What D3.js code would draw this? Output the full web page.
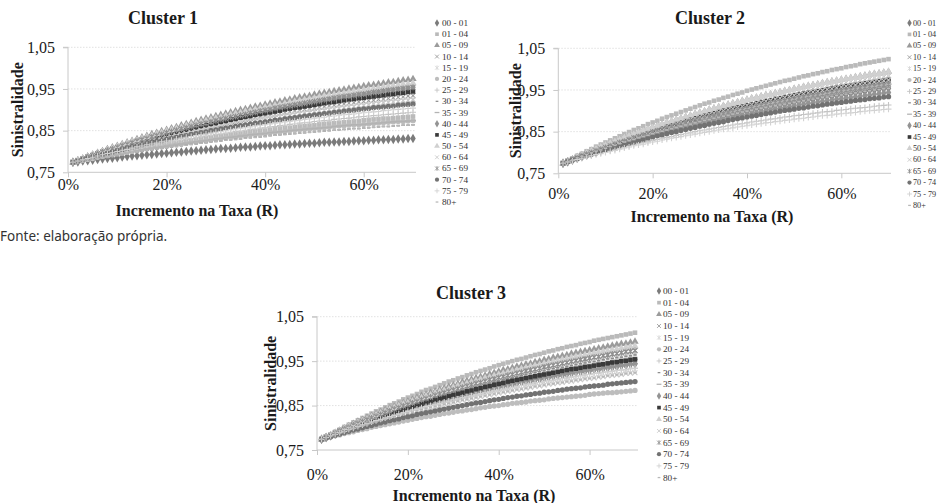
<!DOCTYPE html>
<html><head><meta charset="utf-8">
<script src="https://cdn.jsdelivr.net/npm/d3@7"></script>
<style>body{margin:0;background:#fff;}svg{display:block}</style>
</head><body><svg id="c" width="939" height="503"></svg>
<script>
// ---------------- DATA ----------------
const ageGroups = ["00 - 01","01 - 04","05 - 09","10 - 14","15 - 19","20 - 24","25 - 29","30 - 34","35 - 39","40 - 44","45 - 49","50 - 54","60 - 64","65 - 69","70 - 74","75 - 79","80+"];
const xPercents = [1,2,3,4,5,6,7,8,9,10,11,12,13,14,15,16,17,18,19,20,21,22,23,24,25,26,27,28,29,30,31,32,33,34,35,36,37,38,39,40,41,42,43,44,45,46,47,48,49,50,51,52,53,54,55,56,57,58,59,60,61,62,63,64,65,66,67,68,69,70];
const xTickLabels = ["0%","20%","40%","60%"];
const yTickLabels = ["0,75","0,85","0,95","1,05"];

// curves (sinistralidade x 1000)
const curveA = [774,775,777,778,779,781,782,783,784,785,787,788,789,790,791,792,793,794,795,796,797,798,799,800,801,802,803,804,805,806,807,807,808,809,810,811,811,812,813,814,814,815,816,816,817,818,818,819,820,820,821,822,822,823,823,824,824,825,826,826,827,827,828,828,829,829,830,830,831,831];
const curveB = [774,776,778,780,782,784,786,788,790,792,794,796,798,799,801,803,804,806,808,809,811,812,814,815,817,818,820,821,823,824,825,827,828,829,830,832,833,834,835,836,838,839,840,841,842,843,844,845,846,847,848,849,850,851,852,853,854,855,855,856,857,858,859,860,860,861,862,863,863,864];
const curveC = [774,776,779,781,783,786,788,790,792,794,796,798,800,802,804,806,808,810,811,813,815,817,818,820,822,823,825,826,828,830,831,833,834,835,837,838,840,841,842,843,845,846,847,848,850,851,852,853,854,855,856,857,858,860,861,862,863,864,864,865,866,867,868,869,870,871,872,872,873,874];
const curveD = [774,777,779,782,784,787,789,791,794,796,798,801,803,805,807,809,811,813,815,817,819,821,823,825,826,828,830,832,833,835,837,838,840,841,843,845,846,848,849,850,852,853,855,856,857,858,860,861,862,863,865,866,867,868,869,870,871,872,873,875,876,877,878,879,879,880,881,882,883,884];
const curveE = [774,777,780,782,785,788,790,793,796,798,801,803,805,808,810,812,815,817,819,821,823,825,827,829,831,833,835,837,839,841,842,844,846,848,849,851,853,854,856,857,859,860,862,863,865,866,868,869,870,872,873,874,875,877,878,879,880,881,883,884,885,886,887,888,889,890,891,892,893,894];
const curveF = [774,777,780,783,786,789,792,795,797,800,803,805,808,811,813,816,818,820,823,825,827,830,832,834,836,838,840,842,844,846,848,850,852,854,856,857,859,861,863,864,866,868,869,871,872,874,875,877,878,880,881,882,884,885,887,888,889,890,892,893,894,895,896,898,899,900,901,902,903,904];
const curveG = [774,777,781,784,787,790,793,796,799,802,805,808,811,813,816,819,821,824,826,829,831,834,836,838,841,843,845,847,850,852,854,856,858,860,862,864,866,868,869,871,873,875,876,878,880,881,883,885,886,888,889,891,892,894,895,897,898,899,901,902,903,905,906,907,908,909,911,912,913,914];
const curveH = [774,778,781,785,788,791,795,798,801,804,807,810,813,816,819,822,825,827,830,833,835,838,841,843,846,848,850,853,855,857,860,862,864,866,868,870,872,874,876,878,880,882,884,886,887,889,891,893,894,896,898,899,901,902,904,905,907,908,910,911,912,914,915,917,918,919,920,922,923,924];
const curveI = [774,778,782,785,789,792,796,799,803,806,809,813,816,819,822,825,828,831,834,837,840,842,845,848,850,853,855,858,860,863,865,868,870,872,874,877,879,881,883,885,887,889,891,893,895,897,899,901,902,904,906,907,909,911,912,914,916,917,919,920,922,923,925,926,927,929,930,931,933,934];
const curveJ = [774,778,782,786,790,794,797,801,805,808,812,815,818,822,825,828,831,835,838,841,844,847,849,852,855,858,861,863,866,868,871,873,876,878,881,883,885,888,890,892,894,896,898,901,903,905,906,908,910,912,914,916,918,919,921,923,925,926,928,929,931,932,934,935,937,938,940,941,943,944];
const curveK = [774,778,782,787,791,795,799,803,806,810,814,817,821,825,828,831,835,838,841,845,848,851,854,857,860,863,866,868,871,874,877,879,882,884,887,889,892,894,897,899,901,904,906,908,910,912,914,916,918,920,922,924,926,928,930,932,933,935,937,938,940,942,943,945,947,948,950,951,953,954];
const curveL = [774,779,783,787,792,796,800,804,808,812,816,820,824,827,831,835,838,842,845,849,852,855,858,862,865,868,871,874,877,880,882,885,888,891,893,896,898,901,903,906,908,911,913,915,918,920,922,924,926,928,931,933,935,936,938,940,942,944,946,948,949,951,953,955,956,958,959,961,962,964];
const curveM = [774,779,783,788,793,797,801,806,810,814,818,822,826,830,834,838,842,845,849,852,856,859,863,866,869,873,876,879,882,885,888,891,894,897,900,902,905,908,910,913,915,918,920,923,925,928,930,932,934,937,939,941,943,945,947,949,951,953,955,957,959,960,962,964,966,967,969,971,972,974];
const curveN = [774,779,784,789,793,798,803,807,812,816,820,825,829,833,837,841,845,849,853,856,860,864,867,871,874,878,881,884,887,891,894,897,900,903,906,909,912,914,917,920,922,925,928,930,933,935,938,940,942,945,947,949,951,954,956,958,960,962,964,966,968,970,972,973,975,977,979,981,982,984];
const curveO = [774,779,784,789,794,799,804,809,814,818,823,827,831,836,840,844,848,852,856,860,864,868,872,875,879,882,886,889,893,896,899,903,906,909,912,915,918,921,924,927,930,932,935,938,940,943,945,948,950,953,955,958,960,962,964,967,969,971,973,975,977,979,981,983,985,987,989,990,992,994];
const curveP = [774,780,785,791,796,802,807,812,817,822,827,832,837,841,846,851,855,859,864,868,872,876,881,885,888,892,896,900,904,907,911,914,918,921,925,928,931,934,938,941,944,947,950,953,955,958,961,964,966,969,972,974,977,979,982,984,986,989,991,993,996,998,1000,1002,1004,1006,1008,1010,1012,1014];
const curveQ = [774,780,786,792,797,803,808,814,819,824,829,834,839,844,849,854,858,863,868,872,876,881,885,889,893,897,901,905,909,913,917,920,924,927,931,934,938,941,944,948,951,954,957,960,963,966,969,972,974,977,980,983,985,988,990,993,995,998,1000,1002,1005,1007,1009,1012,1014,1016,1018,1020,1022,1024];

// series per cluster, in legend order
const cluster1Values = [curveA,curveD,curveM,curveI,curveH,curveC,curveE,curveB,curveC,curveK,curveJ,curveL,curveH,curveK,curveG,curveF,curveB];
const cluster2Values = [curveK,curveQ,curveO,curveN,curveN,curveL,curveG,curveM,curveL,curveJ,curveM,curveO,curveM,curveL,curveI,curveF,curveK];
const cluster3Values = [curveJ,curveP,curveO,curveM,curveL,curveD,curveI,curveL,curveK,curveJ,curveK,curveN,curveH,curveM,curveF,curveI,curveH];

// ---------------- STYLE ----------------
const markerStyles = [
  {t:"diamond", c:"#7b7b7b"},
  {t:"square",  c:"#bababa"},
  {t:"triangle",c:"#9b9b9b"},
  {t:"x",       c:"#9a9a9a"},
  {t:"star",    c:"#d6d6d6"},
  {t:"circle",  c:"#bdbdbd"},
  {t:"plus",    c:"#c4c4c4"},
  {t:"dash",    c:"#8e8e8e"},
  {t:"ldash",   c:"#b3b3b3"},
  {t:"diamond", c:"#949494"},
  {t:"square",  c:"#3a3a3a"},
  {t:"triangle",c:"#d0d0d0"},
  {t:"x",       c:"#c9c9c9"},
  {t:"star",    c:"#909090"},
  {t:"circle",  c:"#727272"},
  {t:"plus",    c:"#d2d2d2"},
  {t:"dash",    c:"#b8b8b8"}
];
const filled = {diamond:d3.symbolDiamond, square:d3.symbolSquare, triangle:d3.symbolTriangle, circle:d3.symbolCircle};
const sizes = {diamond:26, square:21, triangle:23, circle:22};
const strokePaths = {
  x:"M-2.4,-2.4L2.4,2.4M-2.4,2.4L2.4,-2.4",
  star:"M-2.4,-2.4L2.4,2.4M-2.4,2.4L2.4,-2.4M0,-3L0,3",
  plus:"M-3,0L3,0M0,-3L0,3",
  dash:"M-1.7,0L1.7,0",
  ldash:"M-3,0L3,0"
};
function markerD(t){ return filled[t] ? d3.symbol(filled[t], sizes[t])() : strokePaths[t]; }
function styleMarker(sel, st){
  if (filled[st.t]) sel.attr("fill", st.c).attr("stroke","none");
  else sel.attr("fill","none").attr("stroke", st.c).attr("stroke-width", st.t==="dash"||st.t==="ldash"?1.6:1.1);
}

const panels = [
  {title:"Cluster 1", values:cluster1Values, x0:68, x70:413, right:416, yTop:47.3, yBot:172.3,
   titleX:163, titleY:24, tickY:190, xTitleX:197, xTitleY:216, yTitleX:17, legX:437, legTX:442, legY:23, legDy:11.19, legFS:9.2},
  {title:"Cluster 2", values:cluster2Values, x0:558.3, x70:888.5, right:891, yTop:48.3, yBot:173.3,
   titleX:710, titleY:24, tickY:199, xTitleX:712, xTitleY:222, yTitleX:515, legX:909.5, legTX:913, legY:23, legDy:11.4, legFS:8.2},
  {title:"Cluster 3", values:cluster3Values, x0:317, x70:635, right:638, yTop:316.7, yBot:450,
   titleX:471, titleY:299, tickY:480, xTitleX:474, xTitleY:501, yTitleX:270.5, legX:659, legTX:663, legY:291, legDy:11.66, legFS:9.2}
];

const svg = d3.select("#c");
const serif = "'Liberation Serif','Times New Roman',serif";

panels.forEach(p => {
  const x = d3.scaleLinear().domain([0,70]).range([p.x0, p.x70]);
  const y = d3.scaleLinear().domain([0.75,1.05]).range([p.yBot, p.yTop]);
  const g = svg.append("g");
  const yTicks = [0.75,0.85,0.95,1.05];

  g.selectAll(".grid").data(yTicks.slice(1)).join("line")
    .attr("x1", p.x0).attr("x2", p.right)
    .attr("y1", d=>y(d)).attr("y2", d=>y(d))
    .attr("stroke","#d9d9d9").attr("stroke-dasharray","1.5,1.5").attr("stroke-width",0.8);

  const ya = g.append("g").attr("transform",`translate(${p.x0},0)`)
    .call(d3.axisLeft(y).tickValues(yTicks).tickSize(5).tickPadding(8).tickFormat((d,i)=>yTickLabels[i]));
  ya.attr("font-family", null);
  ya.select(".domain").attr("stroke","#c8c8c8").attr("d",`M-5,${p.yTop}H0V${p.yBot}`);
  ya.selectAll(".tick line").attr("stroke","#c8c8c8");
  ya.selectAll("text").style("font-family",serif).style("font-size","16px").attr("fill","#1a1a1a");

  const xa = g.append("g").attr("transform",`translate(0,${p.yBot})`)
    .call(d3.axisBottom(x).tickValues([0,20,40,60]).tickSize(5).tickFormat((d,i)=>xTickLabels[i]));
  xa.attr("font-family", null);
  xa.select(".domain").attr("stroke","#c8c8c8").attr("d",`M${p.x0},0H${p.right}`);
  xa.selectAll(".tick line").attr("stroke","#c8c8c8");
  xa.selectAll("text").style("font-family",serif).style("font-size","16px").attr("fill","#1a1a1a")
    .attr("dy",null).attr("y", p.tickY - p.yBot);

  p.values.forEach((vals, si) => {
    const st = markerStyles[si];
    const pts = vals.map((v,i)=>({x:xPercents[i], v:v/1000})).filter(d=>d.x!==undefined);
    const sel = g.append("g").selectAll("path").data(pts).join("path")
      .attr("d", markerD(st.t))
      .attr("transform", d=>`translate(${x(d.x)},${y(d.v)})`);
    styleMarker(sel, st);
  });

  g.append("text").attr("x",p.titleX).attr("y",p.titleY).attr("text-anchor","middle")
    .style("font-family",serif).attr("font-weight","bold").attr("font-size",18).attr("fill","#1a1a1a").text(p.title);
  g.append("text").attr("x",p.xTitleX).attr("y",p.xTitleY).attr("text-anchor","middle")
    .style("font-family",serif).attr("font-weight","bold").attr("font-size",16).attr("fill","#1a1a1a").text("Incremento na Taxa (R)");
  g.append("text").attr("transform",`translate(${p.yTitleX},${(p.yTop+p.yBot)/2}) rotate(-90)`)
    .attr("text-anchor","middle").attr("dominant-baseline","central")
    .style("font-family",serif).attr("font-weight","bold").attr("font-size",16).attr("fill","#1a1a1a").text("Sinistralidade");

  const lg = g.append("g");
  ageGroups.forEach((name, i) => {
    const cy = p.legY + i*p.legDy;
    const m = lg.append("path").attr("d", markerD(markerStyles[i].t)).attr("transform",`translate(${p.legX},${cy}) scale(0.8)`);
    styleMarker(m, markerStyles[i]);
    lg.append("text").attr("x", p.legTX).attr("y", cy).attr("dominant-baseline","central")
      .style("font-family",serif).attr("font-size",p.legFS).attr("fill","#333").text(name);
  });
});

svg.append("text").attr("x",0).attr("y",241).style("font-family","'Noto Sans','Open Sans',sans-serif")
  .attr("font-size",13.5).attr("fill","#333").text("Fonte: elaboração própria.");
</script>
</body></html>
